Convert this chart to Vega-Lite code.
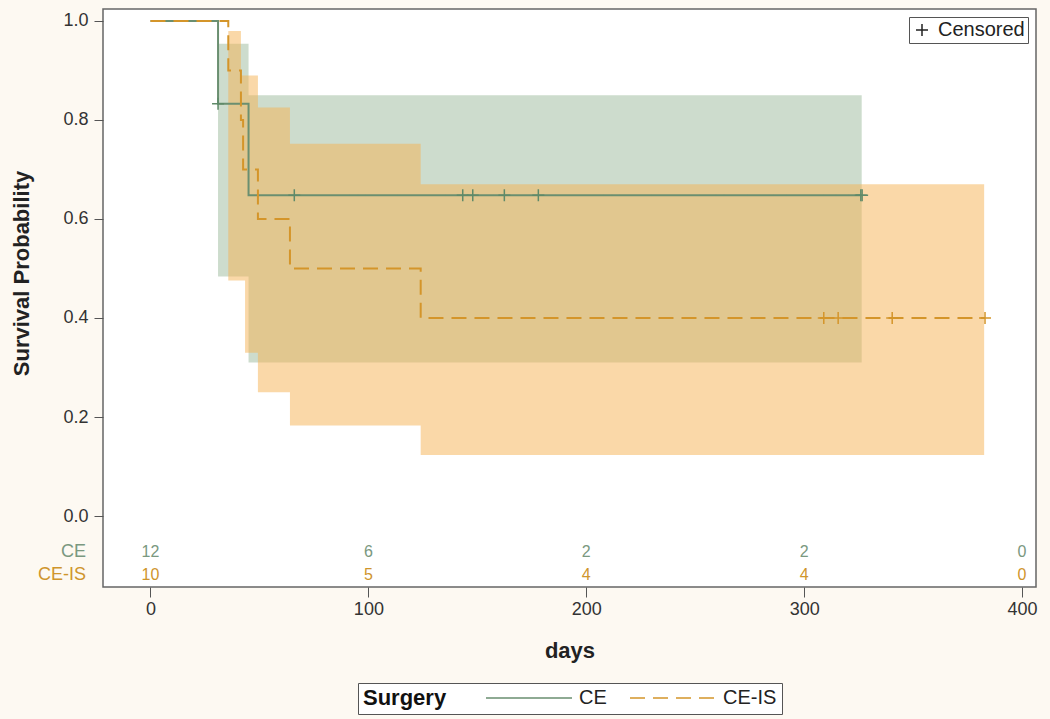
{
  "$schema": "https://vega.github.io/schema/vega-lite/v6.json",
  "width": 933,
  "height": 578,
  "autosize": {"type": "none"},
  "padding": {"left": 103, "top": 9, "right": 14, "bottom": 132},
  "background": "#fdf9f2",
  "config": {
    "font": "Liberation Sans",
    "view": {"fill": "white", "stroke": "#666666", "strokeWidth": 1.5},
    "axis": {
      "domain": false,
      "grid": false,
      "tickColor": "#555555",
      "tickSize": 9,
      "labelFontSize": 18,
      "labelColor": "#333333",
      "titleFontSize": 22,
      "titleFontWeight": "bold",
      "titleColor": "#222222"
    }
  },
  "datasets": {
    "band": [
      {"group": "CE", "t": 31, "lo": 0.484, "hi": 0.954},
      {"group": "CE", "t": 45, "lo": 0.31, "hi": 0.85},
      {"group": "CE", "t": 326.4, "lo": 0.31, "hi": 0.85},
      {"group": "CE-IS", "t": 35.7, "lo": 0.476, "hi": 0.98},
      {"group": "CE-IS", "t": 41.5, "lo": 0.476, "hi": 0.89},
      {"group": "CE-IS", "t": 43.4, "lo": 0.33, "hi": 0.89},
      {"group": "CE-IS", "t": 49.3, "lo": 0.25, "hi": 0.825},
      {"group": "CE-IS", "t": 64, "lo": 0.183, "hi": 0.752},
      {"group": "CE-IS", "t": 124, "lo": 0.123, "hi": 0.67},
      {"group": "CE-IS", "t": 382.6, "lo": 0.123, "hi": 0.67}
    ],
    "curve": [
      {"group": "CE", "t": 0, "s": 1},
      {"group": "CE", "t": 31, "s": 0.833},
      {"group": "CE", "t": 45, "s": 0.648},
      {"group": "CE", "t": 326.4, "s": 0.648},
      {"group": "CE-IS", "t": 0, "s": 1},
      {"group": "CE-IS", "t": 35.7, "s": 0.9},
      {"group": "CE-IS", "t": 41.5, "s": 0.8},
      {"group": "CE-IS", "t": 42.5, "s": 0.7},
      {"group": "CE-IS", "t": 49.3, "s": 0.6},
      {"group": "CE-IS", "t": 64, "s": 0.5},
      {"group": "CE-IS", "t": 124, "s": 0.4},
      {"group": "CE-IS", "t": 383, "s": 0.4}
    ],
    "cens": [
      {"group": "CE", "kind": "Censored", "t": 31, "s": 0.833},
      {"group": "CE", "kind": "Censored", "t": 66, "s": 0.648},
      {"group": "CE", "kind": "Censored", "t": 143.3, "s": 0.648},
      {"group": "CE", "kind": "Censored", "t": 147.9, "s": 0.648},
      {"group": "CE", "kind": "Censored", "t": 162.4, "s": 0.648},
      {"group": "CE", "kind": "Censored", "t": 178, "s": 0.648},
      {"group": "CE", "kind": "Censored", "t": 326, "s": 0.648},
      {"group": "CE", "kind": "Censored", "t": 326.6, "s": 0.648},
      {"group": "CE-IS", "kind": "Censored", "t": 309, "s": 0.4},
      {"group": "CE-IS", "kind": "Censored", "t": 315.6, "s": 0.4},
      {"group": "CE-IS", "kind": "Censored", "t": 340.4, "s": 0.4},
      {"group": "CE-IS", "kind": "Censored", "t": 383, "s": 0.4}
    ],
    "risk": [
      {"group": "CE", "t": 0, "n": 12},
      {"group": "CE", "t": 100, "n": 6},
      {"group": "CE", "t": 200, "n": 2},
      {"group": "CE", "t": 300, "n": 2},
      {"group": "CE", "t": 400, "n": 0},
      {"group": "CE-IS", "t": 0, "n": 10},
      {"group": "CE-IS", "t": 100, "n": 5},
      {"group": "CE-IS", "t": 200, "n": 4},
      {"group": "CE-IS", "t": 300, "n": 4},
      {"group": "CE-IS", "t": 400, "n": 0}
    ]
  },
  "layer": [
    {
      "data": {"name": "band"},
      "mark": {"type": "area", "interpolate": "step-after", "opacity": 0.5},
      "encoding": {
        "x": {
          "field": "t", "type": "quantitative",
          "scale": {"domain": [-21.8, 406.4], "nice": false, "zero": false},
          "axis": {"values": [0, 100, 200, 300, 400], "title": "days", "tickSize": 10, "labelPadding": 3, "titlePadding": 22}
        },
        "y": {
          "field": "lo", "type": "quantitative",
          "scale": {"domain": [-0.1434, 1.0242], "nice": false, "zero": false},
          "axis": {"values": [0, 0.2, 0.4, 0.6, 0.8, 1], "format": ".1f", "title": "Survival Probability", "labelPadding": 6, "titlePadding": 29, "titleY": 264}
        },
        "y2": {"field": "hi"},
        "detail": {"field": "group"},
        "fill": {"condition": {"test": "datum.group === 'CE'", "value": "#9bb99b"}, "value": "#f5b151"}
      }
    },
    {
      "data": {"name": "curve"},
      "mark": {"type": "line", "interpolate": "step-after", "strokeWidth": 2},
      "encoding": {
        "x": {"field": "t", "type": "quantitative"},
        "y": {"field": "s", "type": "quantitative"},
        "color": {
          "field": "group", "type": "nominal",
          "scale": {"domain": ["CE", "CE-IS"], "range": ["#6a8f70", "#d4952a"]},
          "legend": {"title": "Surgery", "orient": "none", "legendX": 255, "legendY": 674, "direction": "horizontal", "titleOrient": "left", "titleFontSize": 22, "titleFontWeight": "bold", "titleColor": "#111111", "labelFontSize": 20, "labelColor": "#222222", "symbolType": "M-8.6,0L8.6,0", "symbolSize": 100, "symbolOffset": 40, "labelOffset": 40, "symbolStrokeWidth": 1.5, "columnPadding": 16, "titlePadding": 32, "padding": 5, "strokeColor": "#555555", "fillColor": "white"}
        },
        "strokeDash": {
          "field": "group", "type": "nominal",
          "scale": {"domain": ["CE", "CE-IS"], "range": [[1, 0], [15, 8]]},
          "legend": {"title": "Surgery", "orient": "none", "legendX": 255, "legendY": 674, "direction": "horizontal", "titleOrient": "left", "titleFontSize": 22, "titleFontWeight": "bold", "titleColor": "#111111", "labelFontSize": 20, "labelColor": "#222222", "symbolType": "M-8.6,0L8.6,0", "symbolSize": 100, "symbolOffset": 40, "labelOffset": 40, "symbolStrokeWidth": 1.5, "columnPadding": 16, "titlePadding": 32, "padding": 5, "strokeColor": "#555555", "fillColor": "white"}
        }
      }
    },
    {
      "data": {"name": "cens"},
      "mark": {"type": "point", "filled": false, "strokeWidth": 1.5, "size": 144, "opacity": 1},
      "encoding": {
        "x": {"field": "t", "type": "quantitative"},
        "y": {"field": "s", "type": "quantitative"},
        "shape": {
          "field": "kind", "type": "nominal",
          "scale": {"domain": ["Censored"], "range": ["M-1,0L1,0M0,-1L0,1"]},
          "legend": {"title": null, "orient": "top-right", "offset": 8, "labelFontSize": 20, "labelColor": "#222222", "strokeColor": "#555555", "fillColor": "white", "padding": 3, "symbolStrokeColor": "#222222", "symbolStrokeWidth": 1.5, "symbolSize": 144, "labelOffset": 6}
        },
        "stroke": {"condition": {"test": "datum.group === 'CE'", "value": "#5f8a69"}, "value": "#d4952a"}
      }
    },
    {
      "data": {"name": "risk"},
      "transform": [{"filter": "datum.group === 'CE'"}],
      "mark": {"type": "text", "fontSize": 16, "color": "#7a9880", "baseline": "middle"},
      "encoding": {
        "x": {"field": "t", "type": "quantitative"},
        "y": {"datum": -0.072, "type": "quantitative"},
        "text": {"field": "n"}
      }
    },
    {
      "data": {"name": "risk"},
      "transform": [{"filter": "datum.group === 'CE-IS'"}],
      "mark": {"type": "text", "fontSize": 16, "color": "#cf952c", "baseline": "middle"},
      "encoding": {
        "x": {"field": "t", "type": "quantitative"},
        "y": {"datum": -0.119, "type": "quantitative"},
        "text": {"field": "n"}
      }
    },
    {
      "data": {"name": "risk"},
      "transform": [{"filter": "datum.group === 'CE' && datum.t === 0"}],
      "mark": {"type": "text", "fontSize": 18, "color": "#7a9880", "baseline": "middle", "align": "right", "dx": -17},
      "encoding": {
        "x": {"datum": -21.8, "type": "quantitative"},
        "y": {"datum": -0.072, "type": "quantitative"},
        "text": {"field": "group"}
      }
    },
    {
      "data": {"name": "risk"},
      "transform": [{"filter": "datum.group === 'CE-IS' && datum.t === 0"}],
      "mark": {"type": "text", "fontSize": 18, "color": "#cf952c", "baseline": "middle", "align": "right", "dx": -17},
      "encoding": {
        "x": {"datum": -21.8, "type": "quantitative"},
        "y": {"datum": -0.119, "type": "quantitative"},
        "text": {"field": "group"}
      }
    }
  ]
}
